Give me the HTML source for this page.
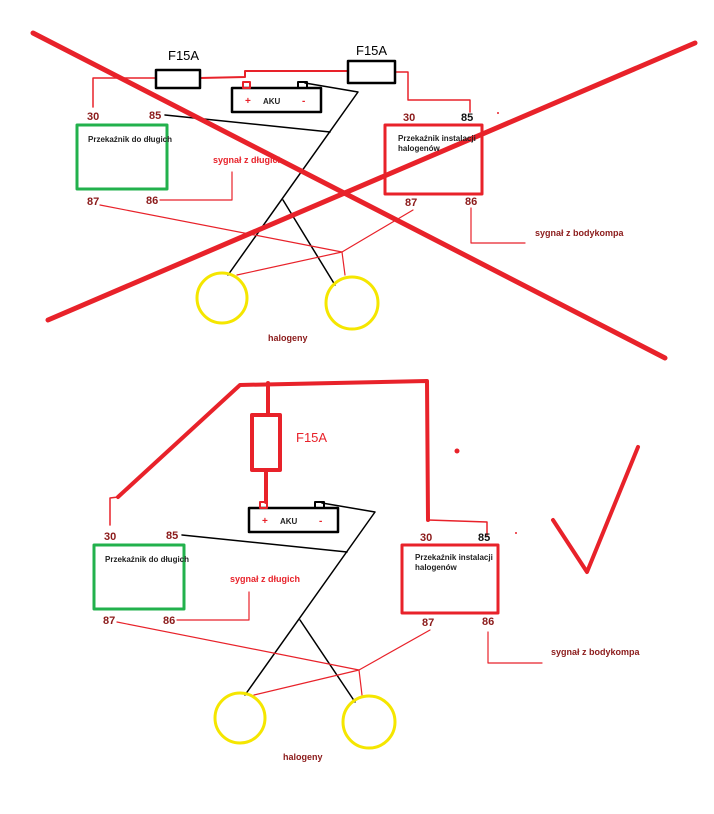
<!DOCTYPE html>
<html><head><meta charset="utf-8"><style>
html,body{margin:0;padding:0;background:#fff}
svg{display:block}
text{font-family:"Liberation Sans",sans-serif}
.b{font-weight:bold;font-size:11px;fill:#8b1a1a}
.s{font-weight:bold;font-size:8px;fill:#222}
</style></head><body>
<svg width="714" height="814" viewBox="0 0 714 814">
<g fill="none" stroke-linecap="round" stroke-linejoin="round">
<!-- TOP -->
<polyline points="93,107 93,78 156,78" stroke="#e8222a" stroke-width="1.5"/>
<polyline points="200,78 245,77 245,71 348,71" stroke="#e8222a" stroke-width="2"/>
<polyline points="395,72 408,72 408,100 470,100 470,112" stroke="#e8222a" stroke-width="1.5"/>
<rect x="156" y="70" width="44" height="18" stroke="#000" stroke-width="2.5"/>
<rect x="348" y="61" width="47" height="22" stroke="#000" stroke-width="2.5"/>
<rect x="232" y="88" width="89" height="24" stroke="#000" stroke-width="2.5"/>
<rect x="243" y="82" width="7" height="6" stroke="#e8222a" stroke-width="2"/>
<rect x="298" y="82" width="9" height="6" stroke="#000" stroke-width="2"/>
<polyline points="305,83 358,92 228,275" stroke="#000" stroke-width="1.5"/>
<line x1="165" y1="115" x2="330" y2="132" stroke="#000" stroke-width="1.5"/>
<line x1="283" y1="200" x2="335" y2="285" stroke="#000" stroke-width="1.5"/>
<rect x="77" y="125" width="90" height="64" stroke="#22b14c" stroke-width="3"/>
<rect x="385" y="125" width="97" height="69" stroke="#e8222a" stroke-width="3"/>
<polyline points="232,172 232,200 160,200" stroke="#e8222a" stroke-width="1.2"/>
<polyline points="100,205 342,252 345,275" stroke="#e8222a" stroke-width="1.2"/>
<polyline points="413,210 342,252 237,275" stroke="#e8222a" stroke-width="1.2"/>
<polyline points="471,208 471,243 525,243" stroke="#e8222a" stroke-width="1.2"/>
<circle cx="222" cy="298" r="25" stroke="#f5e600" stroke-width="3"/>
<circle cx="352" cy="303" r="26" stroke="#f5e600" stroke-width="3"/>
<line x1="33" y1="33" x2="665" y2="358" stroke="#e8222a" stroke-width="5"/>
<line x1="48" y1="320" x2="695" y2="43" stroke="#e8222a" stroke-width="5"/>
<!-- BOTTOM -->
<polyline points="118,497 240,385 427,381 428,520" stroke="#e8222a" stroke-width="4"/>
<polyline points="268,383 268,415" stroke="#e8222a" stroke-width="4"/>
<rect x="252" y="415" width="28" height="55" stroke="#e8222a" stroke-width="4"/>
<polyline points="266,470 266,502" stroke="#e8222a" stroke-width="4"/>
<polyline points="110,525 110,498 118,497" stroke="#e8222a" stroke-width="1.5"/>
<polyline points="428,520 487,522 487,535" stroke="#e8222a" stroke-width="1.5"/>
<rect x="249" y="508" width="89" height="24" stroke="#000" stroke-width="2.5"/>
<rect x="260" y="502" width="7" height="6" stroke="#e8222a" stroke-width="2"/>
<rect x="315" y="502" width="9" height="6" stroke="#000" stroke-width="2"/>
<polyline points="322,503 375,512 245,695" stroke="#000" stroke-width="1.5"/>
<line x1="182" y1="535" x2="347" y2="552" stroke="#000" stroke-width="1.5"/>
<line x1="300" y1="620" x2="355" y2="702" stroke="#000" stroke-width="1.5"/>
<rect x="94" y="545" width="90" height="64" stroke="#22b14c" stroke-width="3"/>
<rect x="402" y="545" width="96" height="68" stroke="#e8222a" stroke-width="3"/>
<polyline points="249,592 249,620 177,620" stroke="#e8222a" stroke-width="1.2"/>
<polyline points="117,622 359,670 362,695" stroke="#e8222a" stroke-width="1.2"/>
<polyline points="430,630 359,670 254,695" stroke="#e8222a" stroke-width="1.2"/>
<polyline points="488,632 488,663 542,663" stroke="#e8222a" stroke-width="1.2"/>
<circle cx="240" cy="718" r="25" stroke="#f5e600" stroke-width="3"/>
<circle cx="369" cy="722" r="26" stroke="#f5e600" stroke-width="3"/>
<polyline points="553,520 587,572 638,447" stroke="#e8222a" stroke-width="4"/>
</g>
<circle cx="457" cy="451" r="2.5" fill="#e8222a"/>
<circle cx="516" cy="533" r="1" fill="#e8222a"/>
<circle cx="498" cy="113" r="1" fill="#e8222a"/>
<!-- top text -->
<text x="168" y="60" font-size="13">F15A</text>
<text x="356" y="55" font-size="13">F15A</text>
<text x="245" y="104" font-size="10" font-weight="bold" fill="#e8222a">+</text>
<text x="263" y="104" class="s" style="font-size:8px">AKU</text>
<text x="302" y="104" font-size="10" font-weight="bold" fill="#e8222a">-</text>
<text x="87" y="120" class="b">30</text>
<text x="149" y="119" class="b">85</text>
<text x="403" y="121" class="b">30</text>
<text x="461" y="121" class="b" style="fill:#111">85</text>
<text x="88" y="142" class="s">Przekaźnik do długich</text>
<text x="398" y="141" class="s">Przekaźnik instalacji</text>
<text x="398" y="151" class="s">halogenów</text>
<text x="213" y="163" font-size="9" font-weight="bold" fill="#e8222a">sygnał z długich</text>
<text x="87" y="205" class="b">87</text>
<text x="146" y="204" class="b">86</text>
<text x="405" y="206" class="b">87</text>
<text x="465" y="205" class="b">86</text>
<text x="535" y="236" font-size="9" font-weight="bold" fill="#8b1a1a">sygnał z bodykompa</text>
<text x="268" y="341" font-size="9" font-weight="bold" fill="#8b1a1a">halogeny</text>
<!-- bottom text -->
<text x="296" y="442" font-size="13" fill="#e8222a">F15A</text>
<text x="262" y="524" font-size="10" font-weight="bold" fill="#e8222a">+</text>
<text x="280" y="524" class="s">AKU</text>
<text x="319" y="524" font-size="10" font-weight="bold" fill="#e8222a">-</text>
<text x="104" y="540" class="b">30</text>
<text x="166" y="539" class="b">85</text>
<text x="420" y="541" class="b">30</text>
<text x="478" y="541" class="b" style="fill:#111">85</text>
<text x="105" y="562" class="s">Przekaźnik do długich</text>
<text x="415" y="560" class="s">Przekaźnik instalacji</text>
<text x="415" y="570" class="s">halogenów</text>
<text x="230" y="582" font-size="9" font-weight="bold" fill="#e8222a">sygnał z długich</text>
<text x="103" y="624" class="b">87</text>
<text x="163" y="624" class="b">86</text>
<text x="422" y="626" class="b">87</text>
<text x="482" y="625" class="b">86</text>
<text x="551" y="655" font-size="9" font-weight="bold" fill="#8b1a1a">sygnał z bodykompa</text>
<text x="283" y="760" font-size="9" font-weight="bold" fill="#8b1a1a">halogeny</text>
</svg>
</body></html>
